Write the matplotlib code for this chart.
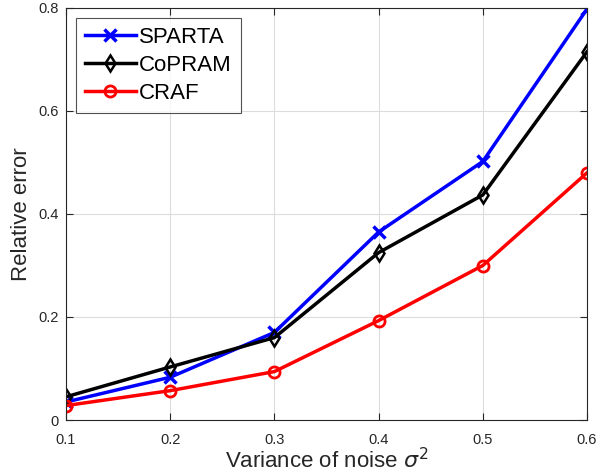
import matplotlib
matplotlib.use("Agg")
import matplotlib.pyplot as plt

plt.rcParams['font.family'] = ['Liberation Sans', 'DejaVu Sans']
plt.rcParams['mathtext.fontset'] = 'dejavusans'

noise_var = [0.1, 0.2, 0.3, 0.4, 0.5, 0.6]
sparta = [0.035, 0.083, 0.170, 0.365, 0.502, 0.798]
copram = [0.045, 0.103, 0.160, 0.325, 0.437, 0.715]
craf = [0.028, 0.057, 0.094, 0.193, 0.300, 0.480]

fig = plt.figure(figsize=(5.97, 4.74), dpi=100)
ax = fig.add_axes([66 / 597, 1 - 420 / 474, 521 / 597, 412 / 474])

ax.plot(noise_var, sparta, color='#0000ff', lw=2.5, marker='x', ms=9, mew=2.5, label='SPARTA')
ax.plot(noise_var, copram, color='black', lw=2.5, marker='d', ms=8, mew=1.8,
        mfc='none', label='CoPRAM')
ax.plot(noise_var, craf, color='#ff0000', lw=2.5, marker='o', ms=8, mew=2,
        mfc='none', label='CRAF')

ax.set_xlim(0.1, 0.6)
ax.set_ylim(0, 0.8)
ax.set_xticks([0.1, 0.2, 0.3, 0.4, 0.5, 0.6])
ax.set_xticklabels(['0.1', '0.2', '0.3', '0.4', '0.5', '0.6'])
ax.set_yticks([0, 0.2, 0.4, 0.6, 0.8])
ax.set_yticklabels(['0', '0.2', '0.4', '0.6', '0.8'])
ax.grid(True, color='#dcdcdc', lw=0.8)
ax.set_axisbelow(True)
ax.tick_params(direction='in', length=5, labelsize=10.5, colors='#262626',
               top=True, right=True, labelcolor='#262626')
ax.tick_params(axis='x', pad=9)
ax.tick_params(axis='y', pad=5)
for s in ax.spines.values():
    s.set_color('#262626')
    s.set_linewidth(0.8)

ax.set_xlabel(r'Variance of noise $\sigma^2$', fontsize=16, labelpad=1, color='#262626')
ax.set_ylabel('Relative error', fontsize=16, labelpad=5, color='#262626')

leg = ax.legend(loc='upper left', fontsize=16, frameon=True, fancybox=False,
                edgecolor='#262626', handlelength=2.3, borderaxespad=0.45,
                labelspacing=0.32, handletextpad=0.15, borderpad=0.4)
leg.get_frame().set_linewidth(0.8)

fig.savefig('out.png', dpi=100)
